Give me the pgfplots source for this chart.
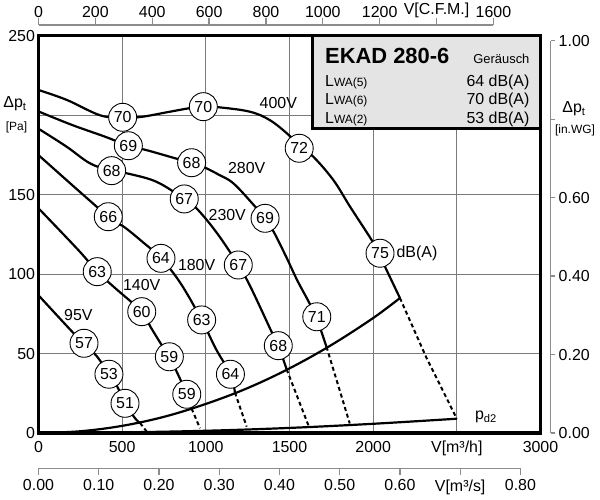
\documentclass[border=0pt]{standalone}
\usepackage{fontspec}
\setmainfont{Liberation Sans}
\usepackage{pgfplots}
\pgfplotsset{compat=1.18}
\definecolor{gridc}{HTML}{7A7A7A}
\definecolor{secax}{HTML}{8C8C8C}
\definecolor{boxfill}{HTML}{E4E4E4}
\newcommand{\fs}[1]{\fontsize{#1}{#1}\selectfont}
\tikzset{
  curve/.style={black, line width=2.2bp, smooth, tension=0.6},
  dcurve/.style={black, line width=2bp, dash pattern=on 4bp off 3bp},
}
\begin{document}
\begin{tikzpicture}
\useasboundingbox (-38.5bp,-67bp) rectangle (561.5bp,433bp);
\begin{axis}[
  at={(0,0)}, anchor=south west,
  scale only axis, width=502bp, height=397bp,
  xmin=0, xmax=3000, ymin=0, ymax=250,
  xtick={0,500,...,3000}, ytick={0,50,...,250},
  xticklabels={0,500,1000,1500,2000,{V[m³/h]},3000},
  yticklabels={0,50,100,150,{},250},
  grid=major, major grid style={gridc, line width=0.8bp},
  major tick length=0pt,
  axis line style={line width=3bp},
  ticklabel style={font=\fs{16}},
  xticklabel style={yshift=-4.5bp},
  clip=false,
]
% legend box
\filldraw[fill=boxfill, draw=black, line width=3bp] (axis cs:1638.7,191.9) rectangle (axis cs:3000,250);
\node[anchor=base west, font=\bfseries\fs{22}] at (axis cs:1692,232.8) {EKAD 280-6};
\node[anchor=base east, font=\fs{13}] at (axis cs:2955,232.4) {Geräusch};
\node[anchor=base west] at (axis cs:1692,218.5) {\fs{16}L\fs{12}WA(5)};
\node[anchor=base west] at (axis cs:1692,207) {\fs{16}L\fs{12}WA(6)};
\node[anchor=base west] at (axis cs:1692,195) {\fs{16}L\fs{12}WA(2)};
\node[anchor=base east, font=\fs{16}] at (axis cs:2955,218.5) {64 dB(A)};
\node[anchor=base east, font=\fs{16}] at (axis cs:2955,207) {70 dB(A)};
\node[anchor=base east, font=\fs{16}] at (axis cs:2955,195) {53 dB(A)};

% pd2 curve
\addplot[curve] coordinates {(0,0) (500,0.4) (1000,1.4) (1500,3.2) (2000,5.8) (2500,9)};
% system curve
\addplot[curve] coordinates {(0,0) (250,1.1) (500,4.5) (750,10.2) (1000,18.3) (1250,28.3) (1500,40.7) (1750,55.4) (2000,72.4) (2160,85)};

% 400V
\addplot[curve] coordinates {(0,216) (170,209.7) (370,200) (503,198.8) (610,199) (769,202) (900,204.5) (985,205.5) (1088,205) (1264,202.3) (1383,197) (1497,187.5) (1558,180.5) (1642,174) (1762,159.3) (1862,142.5) (1991,121.5) (2041,112) (2071,104.7) (2160,85)};
\addplot[dcurve] coordinates {(2160,85) (2320,47) (2500,9)};
% 280V
\addplot[curve] coordinates {(0,202.5) (200,194) (400,186.5) (537,180.9) (650,178) (827,172.7) (915,170.2) (997,167) (1080,162.5) (1167,157) (1297,142.3) (1354,135.2) (1406,126.6) (1480,111) (1546,96.2) (1615,82.6) (1663,72) (1721,54.3)};
\addplot[dcurve] coordinates {(1721,54.3) (1860,6)};
% 230V
\addplot[curve] coordinates {(0,191.6) (168,180.3) (308,169.8) (437,165.2) (550,163) (709,158) (871,147.4) (946,141.3) (1068,125.7) (1194,105.8) (1267,92) (1397,62.8) (1433,55) (1483,40.1)};
\addplot[dcurve] coordinates {(1483,40.1) (1616,4)};
% 180V
\addplot[curve] coordinates {(0,175) (417,136.2) (510,129.9) (620,120.5) (732,110) (849,94.3) (975,71.2) (1060,53) (1147,37) (1174,25.5)};
\addplot[dcurve] coordinates {(1174,25.5) (1244,4)};
% 140V
\addplot[curve] coordinates {(0,141.5) (238,115.2) (351,101.6) (450,92) (617,76.4) (669,66.9) (736,55.4) (782,48) (849,33.4) (886,24.4) (915,15.4)};
\addplot[dcurve] coordinates {(915,15.4) (965,3)};
% 95V
\addplot[curve] coordinates {(0,86.7) (210,62.8) (272,56.5) (351,48) (421,37) (470,29.4) (517,18.7) (577,9.3) (607,6.3)};
\addplot[dcurve] coordinates {(607,6.3) (647,0.8)};

% circled sound levels
\addplot[draw=none, mark=none, nodes near coords, point meta=explicit symbolic,
  nodes near coords align=center,
  every node near coord/.append style={circle, draw=black, line width=0.9bp, fill=white,
    minimum size=28bp, inner sep=0pt, anchor=center, font=\fs{16}}]
  table[meta=label] {
x y label
503 198.8 70
985 205.5 70
1558 179.3 72
2041 113.2 75
537 180.9 69
915 170.2 68
1354 135.2 69
1663 73.2 71
437 165.2 68
871 147.4 67
1194 105.8 67
1433 55 68
417 136.2 66
732 110 64
975 71.2 63
1147 37 64
351 101.6 63
617 76.4 60
782 48 59
886 24.4 59
272 56.5 57
421 37 53
517 18.7 51
};
% voltage labels
\addplot[draw=none, mark=none, nodes near coords, point meta=explicit symbolic,
  nodes near coords align=center,
  every node near coord/.append style={anchor=center, inner sep=0pt, font=\fs{16}}]
  table[meta=label] {
x y label
1433 207.6 400V
1244 166.7 280V
1128 137.3 230V
945 105.8 180V
617 93.2 140V
238 74.3 95V
2262 113.2 dB(A)
};
\end{axis}

% top CFM axis
\begin{axis}[
  at={(0,0)}, anchor=south west,
  scale only axis, width=454.9bp, height=408bp,
  xmin=0, xmax=1600, ymin=0, ymax=1,
  axis x line*=top, hide y axis,
  xtick={0,200,...,1600},
  xticklabels={0,200,400,600,800,1000,1200,{V[C.F.M.]},1600},
  tick align=outside, major tick length=6.5bp,
  axis line style={secax, line width=1.2bp},
  tick style={secax, line width=1.2bp},
  ticklabel style={font=\fs{16}, black},
  xticklabel style={yshift=-2.5bp},
]
\end{axis}

% bottom m3/s axis
\begin{axis}[
  at={(0,-35.3bp)}, anchor=south west,
  scale only axis, width=481.9bp, height=20bp,
  xmin=0, xmax=0.8, ymin=0, ymax=1,
  axis x line*=bottom, hide y axis,
  xtick={0,0.1,0.2,0.3,0.4,0.5,0.6,0.7,0.8},
  xticklabels={0.00,0.10,0.20,0.30,0.40,0.50,0.60,{V[m³/s]},0.80},
  tick align=outside, major tick length=6.5bp,
  axis line style={secax, line width=1.2bp},
  tick style={secax, line width=1.2bp},
  ticklabel style={font=\fs{16}, black},
  xticklabel style={yshift=-1.5bp},
]
\end{axis}

% right in.WG axis
\begin{axis}[
  at={(512.2bp,0)}, anchor=south east,
  scale only axis, width=10bp, height=392.3bp,
  xmin=0, xmax=1, ymin=0, ymax=1,
  axis y line*=right, hide x axis,
  ytick={0,0.2,0.4,0.6,0.8,1.0},
  yticklabels={0.00,0.20,0.40,0.60,{},1.00},
  tick align=outside, major tick length=4.5bp,
  axis line style={secax, line width=1.2bp},
  tick style={secax, line width=1.2bp},
  ticklabel style={font=\fs{16}, black},
]
\end{axis}

% axis titles
\node[anchor=base, font=\fs{16}] at (-23.5bp,325bp) {Δp\textsubscript{t}};
\node[anchor=center, font=\fs{12}] at (-22bp,306bp) {[Pa]};
\node[anchor=base, font=\fs{16}] at (535.5bp,320bp) {Δp\textsubscript{t}};
\node[anchor=center, font=\fs{12}] at (536.5bp,303bp) {[in.WG]};
\node[anchor=center, font=\fs{16}] at (447.5bp,16bp) {p\textsubscript{d2}};
\end{tikzpicture}
\end{document}
